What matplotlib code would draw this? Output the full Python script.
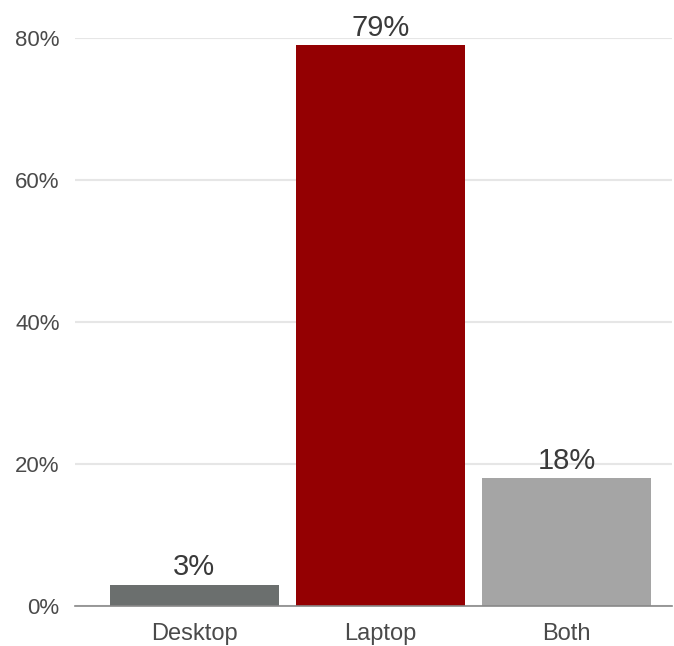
import matplotlib
matplotlib.use("Agg")
import matplotlib.pyplot as plt
import numpy as np

categories = ["Desktop", "Laptop", "Both"]
shares = [3, 79, 18]
colors = ["#6b6f6e", "#940002", "#a5a5a5"]
yticks = [0, 20, 40, 60, 80]

plt.rcParams["font.family"] = ["Liberation Sans", "DejaVu Sans"]

fig = plt.figure(figsize=(6.74, 6.46), dpi=100)
ax = fig.add_axes([75 / 674, 1 - 606 / 646, 597 / 674, 568 / 646])

x = np.arange(len(categories))
ax.bar(x, shares, width=0.91, color=colors, zorder=2)
for xi, v in zip(x, shares):
    ax.text(xi, v + 0.5, f"{v}%", ha="center", va="bottom", fontsize=21,
            color="#3a3a3a", clip_on=False, zorder=3)

ax.set_xlim(-0.642, 2.567)
ax.set_ylim(0, 80)
ax.set_yticks(yticks)
ax.set_yticklabels([f"{t}%" for t in yticks], fontsize=16, color="#4a4a4a")
ax.set_xticks(x)
ax.set_xticklabels(categories, fontsize=17, color="#4a4a4a")
ax.tick_params(length=0, pad=12)
ax.tick_params(axis="y", pad=11)
ax.grid(axis="y", color="#e6e6e6", lw=1.5, zorder=0)
for s in ["top", "right", "left"]:
    ax.spines[s].set_visible(False)
ax.spines["bottom"].set_color("#888888")
ax.spines["bottom"].set_linewidth(1.2)

fig.savefig("out.png", dpi=100)
